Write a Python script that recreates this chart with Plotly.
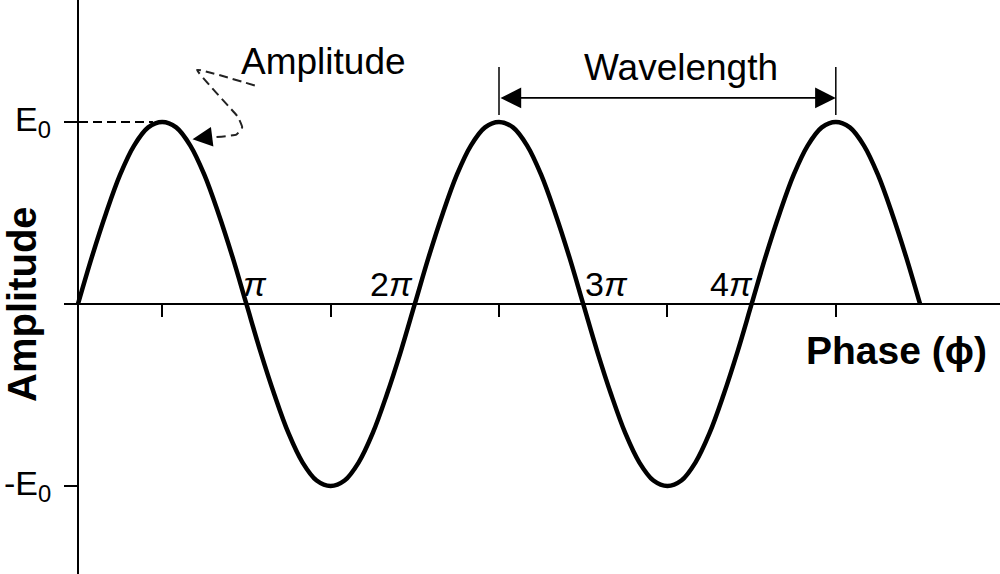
# %% imports

import plotly.graph_objects as go

# %% Data (phase in units of pi, amplitude in units of E0)

phase = [0, 0.083, 0.167, 0.25, 0.333, 0.417, 0.5, 0.583, 0.667, 0.75, 0.833, 0.917,
         1, 1.083, 1.167, 1.25, 1.333, 1.417, 1.5, 1.583, 1.667, 1.75, 1.833, 1.917,
         2, 2.083, 2.167, 2.25, 2.333, 2.417, 2.5, 2.583, 2.667, 2.75, 2.833, 2.917,
         3, 3.083, 3.167, 3.25, 3.333, 3.417, 3.5, 3.583, 3.667, 3.75, 3.833, 3.917,
         4, 4.083, 4.167, 4.25, 4.333, 4.417, 4.5, 4.583, 4.667, 4.75, 4.833, 4.917, 5]
amplitude = [0, 0.26, 0.5, 0.71, 0.87, 0.97, 1, 0.97, 0.87, 0.71, 0.5, 0.26,
             0, -0.26, -0.5, -0.71, -0.87, -0.97, -1, -0.97, -0.87, -0.71, -0.5, -0.26,
             0, 0.26, 0.5, 0.71, 0.87, 0.97, 1, 0.97, 0.87, 0.71, 0.5, 0.26,
             0, -0.26, -0.5, -0.71, -0.87, -0.97, -1, -0.97, -0.87, -0.71, -0.5, -0.26,
             0, 0.26, 0.5, 0.71, 0.87, 0.97, 1, 0.97, 0.87, 0.71, 0.5, 0.26, 0]

tick_phase = [0.5, 1.5, 2.5, 3.5, 4.5]
tick_amp = [-1, 0, 1]

pi_labels = ['<i>π</i>', '2<i>π</i>', '3<i>π</i>', '4<i>π</i>']
pi_label_x = [1.05, 1.86, 3.14, 3.88]
pi_label_y = 0.11

amp_labels = ['E<sub>0</sub>', '-E<sub>0</sub>']
amp_label_y = [1, -1]

# squiggly dashed pointer from the "Amplitude" label to the first peak
squiggle_x = [1.05, 0.707, 0.95, 0.975, 0.94, 0.74]
squiggle_y = [1.20, 1.286, 1.027, 0.97, 0.93, 0.912]

wave_start, wave_end, wave_y = 2.5, 4.5, 1.132

# %% Axes geometry

W, H = 1000, 574
x_range = [-0.0772, 5.475]
y_range = [-1.4835, 1.670]
x_dom = [0.065, 1.0]
y_zero_pos = -y_range[0] / (y_range[1] - y_range[0])
x_zero_pos = x_dom[0] + (0 - x_range[0]) / (x_range[1] - x_range[0]) * (x_dom[1] - x_dom[0])

font = 'Arial, Liberation Sans, sans-serif'

# %% Figure

fig = go.Figure()

fig.add_trace(go.Scatter(
    x=phase, y=amplitude, mode='lines',
    line=dict(color='black', width=4.5, shape='spline', smoothing=1),
    showlegend=False, hoverinfo='skip', cliponaxis=False))

# dashed level line at E0
fig.add_trace(go.Scatter(
    x=[x_range[0], 0.445], y=[1, 1], mode='lines',
    line=dict(color='black', width=2, dash='9px,5px'),
    showlegend=False, hoverinfo='skip'))

# squiggly dashed pointer
fig.add_trace(go.Scatter(
    x=squiggle_x, y=squiggle_y, mode='lines',
    line=dict(color='#222222', width=2, dash='9px,5px', shape='spline', smoothing=0.3),
    showlegend=False, hoverinfo='skip', cliponaxis=False))

# its arrow head
fig.add_annotation(x=0.68, y=0.905, ax=squiggle_x[-1], ay=squiggle_y[-1],
                   xref='x', yref='y', axref='x', ayref='y', text='',
                   showarrow=True, arrowhead=2, arrowsize=2.2, arrowwidth=1.8,
                   arrowcolor='black', standoff=0)

# wavelength bars
for xv in [wave_start, wave_end]:
    fig.add_shape(type='line', x0=xv, x1=xv, y0=1.038, y1=1.302,
                  line=dict(color='black', width=1.5))

fig.add_annotation(x=wave_end, y=wave_y, ax=wave_start, ay=wave_y,
                   xref='x', yref='y', axref='x', ayref='y', text='',
                   showarrow=True, arrowside='end+start', arrowhead=2,
                   arrowsize=2.3, arrowwidth=1.8, arrowcolor='black',
                   standoff=0, startstandoff=0)

fig.add_annotation(x=3.58, y=1.30, xref='x', yref='y', text='Wavelength',
                   showarrow=False, font=dict(family=font, size=37, color='black'))
fig.add_annotation(x=1.46, y=1.33, xref='x', yref='y', text='Amplitude',
                   showarrow=False, font=dict(family=font, size=37, color='black'))

for txt, xv in zip(pi_labels, pi_label_x):
    fig.add_annotation(x=xv, y=pi_label_y, xref='x', yref='y', text=txt,
                       showarrow=False, font=dict(family=font, size=34, color='black'))

for txt, yv in zip(amp_labels, amp_label_y):
    fig.add_annotation(x=0.053, y=yv, xref='paper', yref='y', text=txt,
                       xanchor='right', showarrow=False,
                       font=dict(family=font, size=34, color='black'))

fig.add_annotation(x=4.86, y=-0.253, xref='x', yref='y', text='<b>Phase (ϕ)</b>',
                   showarrow=False, font=dict(family=font, size=39, color='black'))
fig.add_annotation(x=0.022, y=0, xref='paper', yref='y', text='<b>Amplitude</b>',
                   textangle=-90, showarrow=False, xshift=-24,
                   font=dict(family=font, size=40, color='black'))

fig.update_layout(
    width=W, height=H,
    margin=dict(l=0, r=0, t=0, b=0),
    paper_bgcolor='white', plot_bgcolor='white',
    xaxis=dict(range=x_range, domain=x_dom, anchor='free', position=y_zero_pos,
               showline=True, linecolor='black', linewidth=1.5,
               ticks='outside', ticklen=12, tickwidth=1.5, tickcolor='black',
               tickvals=tick_phase, showticklabels=False,
               showgrid=False, zeroline=False),
    yaxis=dict(range=y_range, domain=[0, 1], anchor='free', position=x_zero_pos,
               showline=True, linecolor='black', linewidth=1.5,
               ticks='outside', ticklen=13, tickwidth=1.5, tickcolor='black',
               tickvals=tick_amp, showticklabels=False,
               showgrid=False, zeroline=False),
)

fig.write_html('out.html', config={'displayModeBar': False},
               post_script="document.body.style.margin = '0';")
